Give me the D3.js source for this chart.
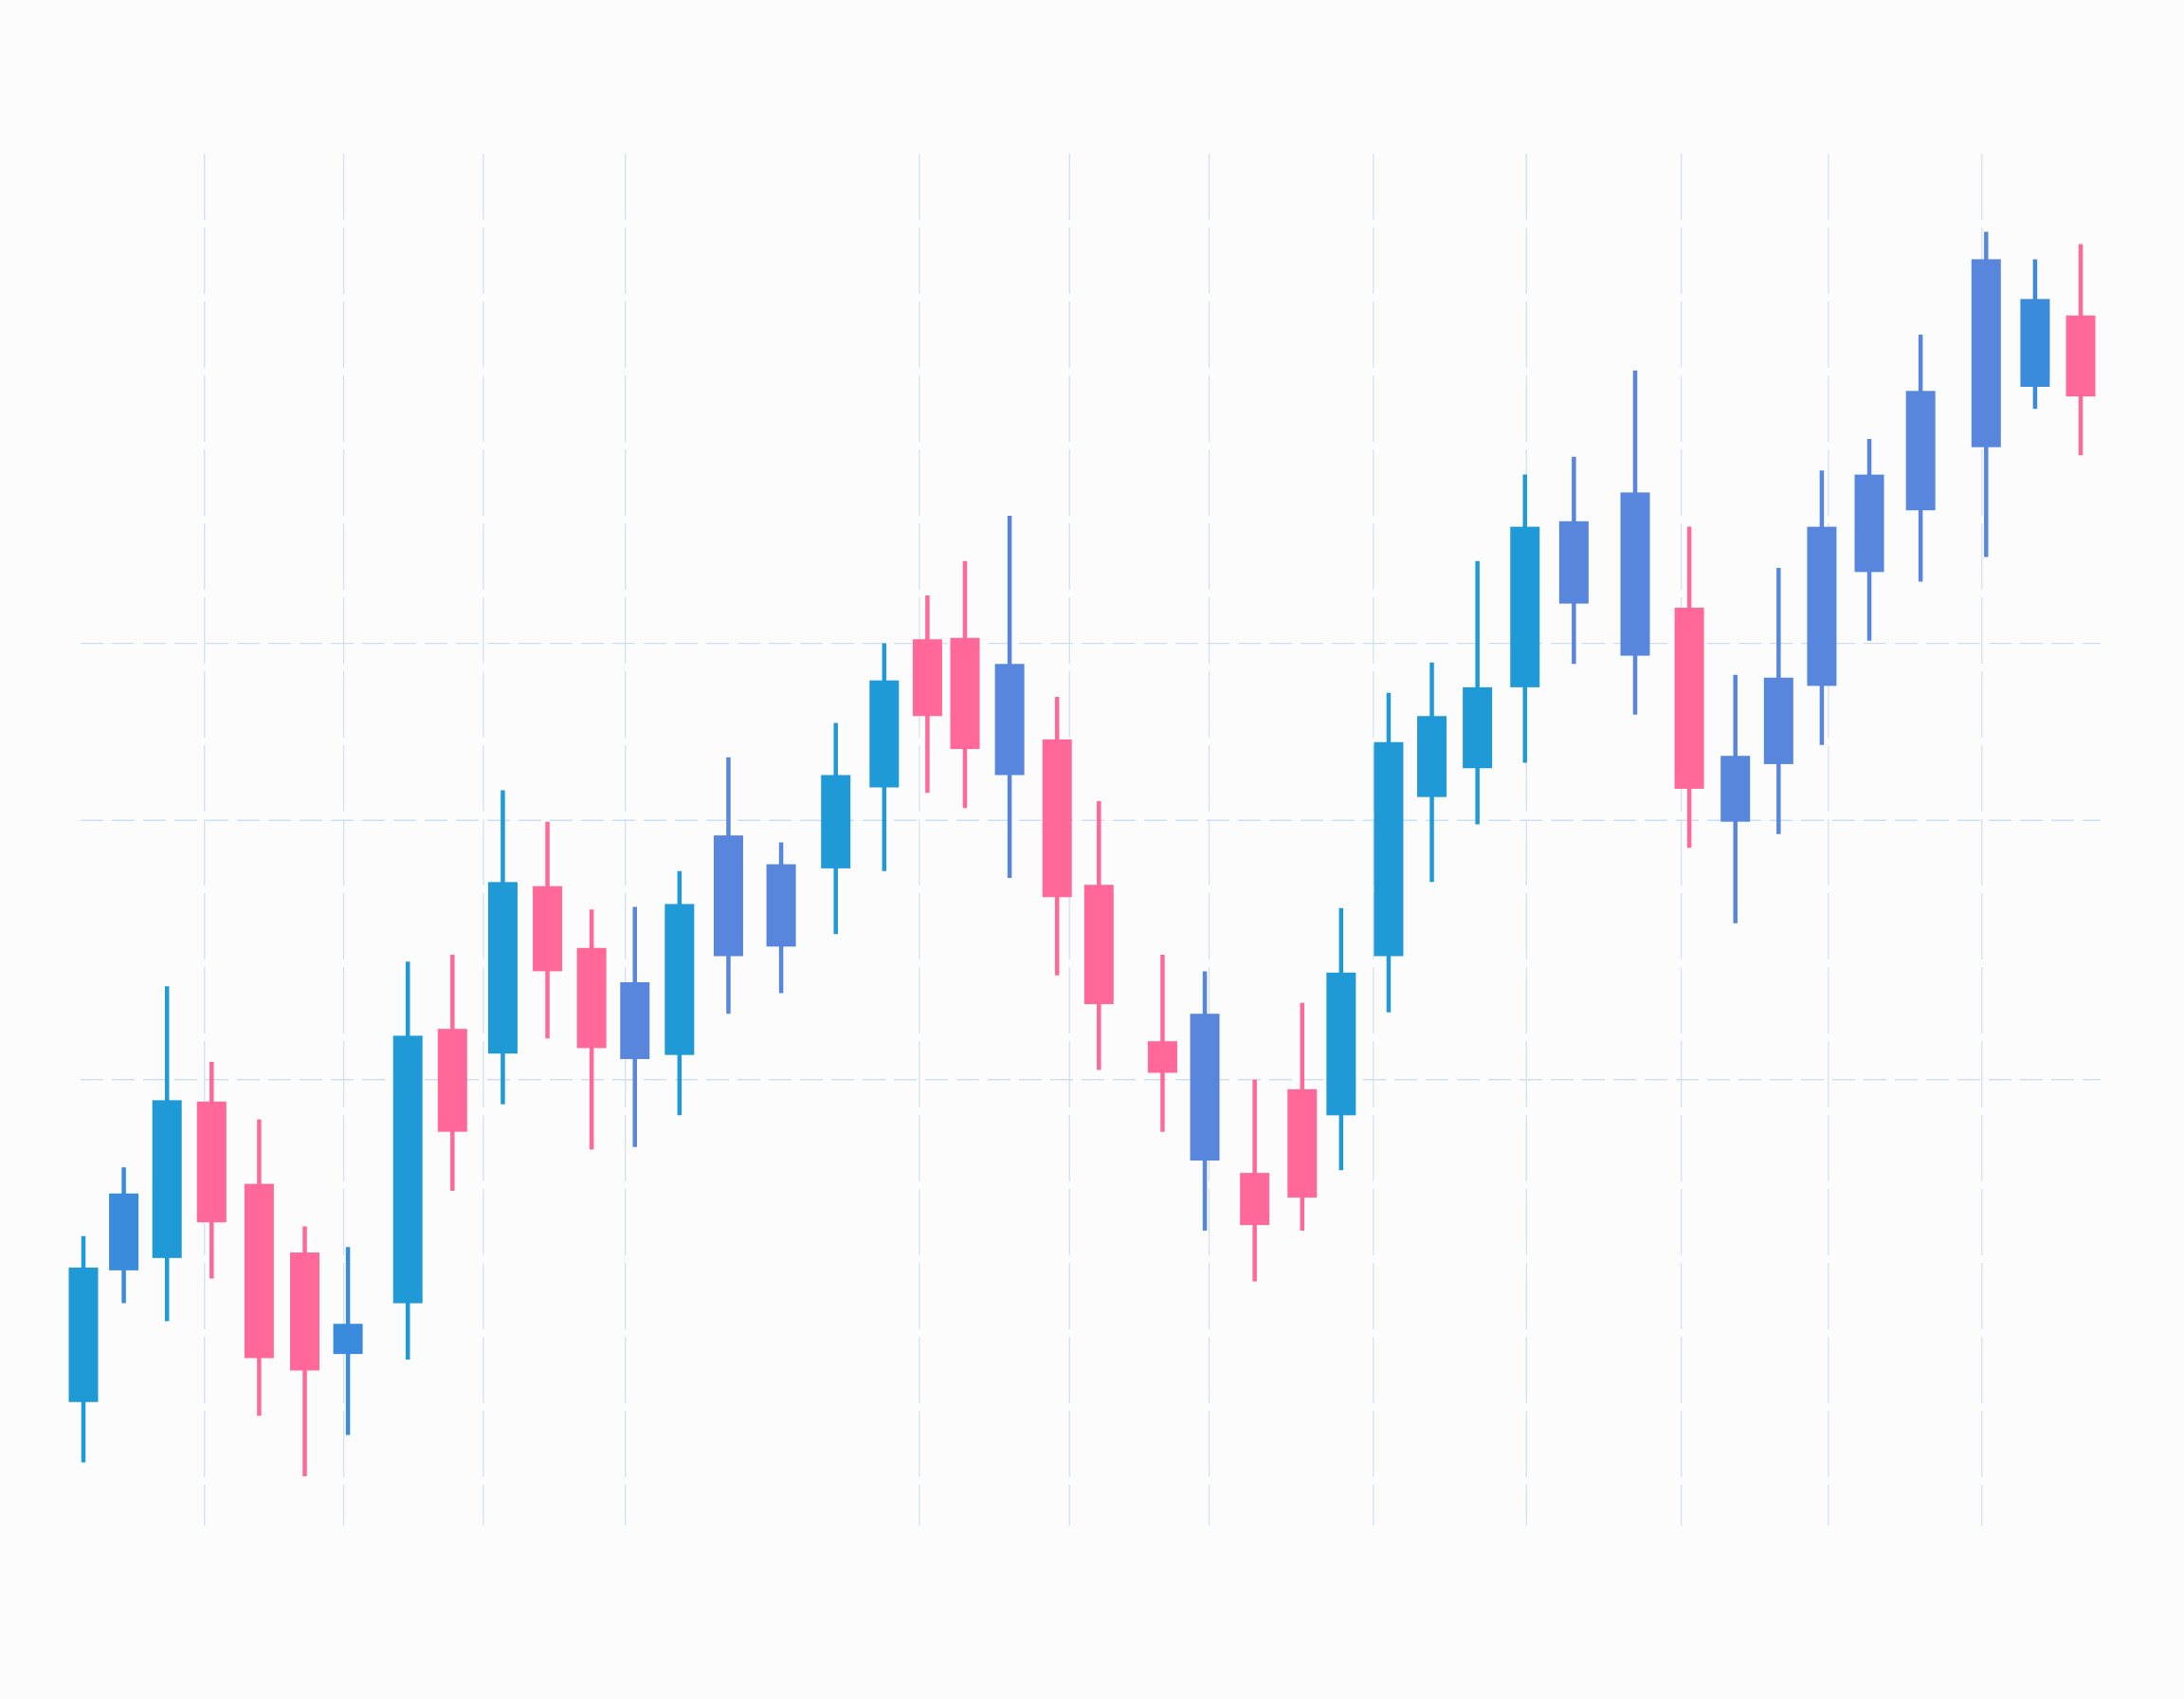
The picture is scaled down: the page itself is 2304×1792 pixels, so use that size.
<!DOCTYPE html>
<html>
<head>
<meta charset="utf-8">
<script src="https://cdn.jsdelivr.net/npm/d3@7"></script>
<style>
  html, body { margin: 0; padding: 0; background: #fcfcfd; }
  svg { display: block; }
</style>
</head>
<body>
<div id="chart"></div>
<script>
// session position of each candle (gaps are uneven in the picture)
var days = [0, 0.85, 1.76, 2.70, 3.70, 4.66, 5.57, 6.83, 7.77, 8.83, 9.77, 10.70, 11.61, 12.55,
  13.58, 14.69, 15.84, 16.86, 17.77, 18.56, 19.50, 20.50, 21.38, 22.72, 23.61, 24.66, 25.66,
  26.48, 27.48, 28.39, 29.35, 30.35, 31.38, 32.67, 33.81, 34.78, 35.69, 36.60, 37.60, 38.68,
  40.06, 41.09, 42.05];
var opens = [9.0, 18.6, 19.5, 30.9, 24.9, 19.9, 12.5, 16.2, 36.2, 34.4, 46.6, 42.1, 34.0, 34.3,
  41.5, 42.2, 47.9, 53.8, 64.6, 64.7, 54.7, 57.3, 46.7, 35.3, 26.6, 25.7, 31.8, 29.9, 41.5,
  53.1, 55.2, 61.1, 67.2, 63.4, 66.9, 51.3, 55.5, 61.2, 69.5, 74.0, 78.6, 83.0, 88.2];
var closes = [18.8, 24.2, 31.0, 22.1, 12.2, 11.3, 14.7, 35.7, 28.7, 46.9, 40.4, 34.8, 39.6, 45.3,
  50.3, 48.2, 54.7, 61.6, 59.0, 56.6, 62.8, 45.8, 38.0, 33.0, 37.3, 21.9, 23.9, 40.3, 57.1,
  59.0, 61.1, 72.8, 73.2, 75.3, 53.7, 56.1, 61.8, 72.8, 76.6, 82.7, 92.3, 89.4, 82.3];
var highs = [21.1, 26.1, 39.3, 33.8, 29.6, 21.8, 20.3, 41.1, 41.6, 53.6, 51.3, 44.9, 45.1, 47.7,
  56.0, 49.8, 58.5, 64.3, 67.8, 70.3, 73.6, 60.4, 52.8, 41.6, 40.4, 32.5, 38.1, 45.0, 60.7,
  62.9, 70.3, 76.6, 77.9, 84.2, 72.8, 62.0, 69.8, 76.9, 79.2, 86.8, 94.3, 92.3, 93.4];
var lows = [4.6, 16.2, 14.9, 18.0, 8.0, 3.6, 6.6, 12.1, 24.4, 30.7, 35.5, 27.4, 27.6, 29.9,
  37.3, 38.8, 43.1, 47.7, 53.4, 52.3, 47.2, 40.1, 33.2, 28.7, 21.5, 17.8, 21.5, 25.9, 37.4,
  46.9, 51.1, 55.6, 62.8, 59.1, 49.4, 43.9, 50.4, 56.9, 64.5, 68.8, 70.6, 81.4, 78.0];
// colour group of each candle: c = cyan, m = mid blue, b = periwinkle, p = pink
var tones = ["c","m","c","p","p","p","m","c","p","c","p","p","b","c","b","b","c","c","p","p",
  "b","p","p","p","b","p","p","c","c","c","c","c","b","b","p","b","b","b","b","b","b","m","p"];

// grid positions
var gridDays = [2.55, 5.48, 8.42, 11.41, 17.60, 20.76, 23.70, 27.16, 30.38, 33.64, 36.74, 39.97];
var gridPrices = [64.3, 51.4, 32.5];

var W = 2304, H = 1792;

var svg = d3.select("#chart")
  .append("svg")
  .attr("width", W)
  .attr("height", H);

svg.append("rect")
  .attr("width", W).attr("height", H)
  .attr("fill", "#fcfcfd");

var x = d3.scaleLinear().domain([0, 42.05]).range([88, 2195]);
var y = d3.scaleLinear().domain([0, 100]).range([1609, 162]);

var color = d3.scaleOrdinal()
  .domain(["c", "m", "b", "p"])
  .range(["#1f9ad6", "#3a8bdc", "#5886dc", "#ff6898"]);

// vertical dashed grid
svg.append("g").selectAll("line").data(gridDays).enter()
  .append("line")
  .attr("x1", function(d) { return x(d); })
  .attr("x2", function(d) { return x(d); })
  .attr("y1", y(100))
  .attr("y2", y(0))
  .attr("stroke", "#d3e1f3")
  .attr("stroke-width", 1.3)
  .attr("stroke-dasharray", "70,8");

// horizontal dashed grid
svg.append("g").selectAll("line").data(gridPrices).enter()
  .append("line")
  .attr("x1", 85)
  .attr("x2", 2216)
  .attr("y1", function(d) { return y(d); })
  .attr("y2", function(d) { return y(d); })
  .attr("stroke", "#cfdff2")
  .attr("stroke-width", 1.3)
  .attr("stroke-dasharray", "24,9");

var candles = days.map(function(d, i) {
  return { day: d, open: opens[i], close: closes[i], high: highs[i], low: lows[i], tone: tones[i] };
});

var bodyW = 31;

var g = svg.append("g").selectAll("g").data(candles).enter().append("g");

// wicks
g.append("line")
  .attr("x1", function(d) { return x(d.day); })
  .attr("x2", function(d) { return x(d.day); })
  .attr("y1", function(d) { return y(d.high); })
  .attr("y2", function(d) { return y(d.low); })
  .attr("stroke", function(d) { return color(d.tone); })
  .attr("stroke-width", 4.5);

// bodies
g.append("rect")
  .attr("x", function(d) { return x(d.day) - bodyW / 2; })
  .attr("y", function(d) { return y(Math.max(d.open, d.close)); })
  .attr("width", bodyW)
  .attr("height", function(d) { return Math.abs(y(d.open) - y(d.close)); })
  .attr("fill", function(d) { return color(d.tone); });
</script>
</body>
</html>
